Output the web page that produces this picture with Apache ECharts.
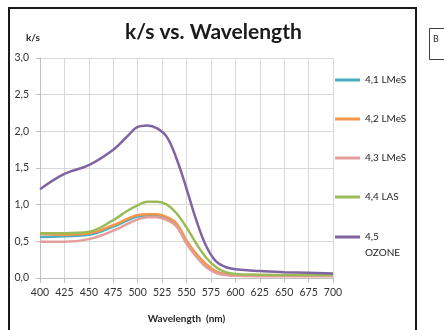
<!DOCTYPE html>
<html>
<head>
<meta charset="utf-8">
<script src="https://cdn.jsdelivr.net/npm/echarts@6/dist/echarts.min.js"></script>
<style>
  html, body { margin: 0; padding: 0; background: #ffffff; }
  #chart { width: 444px; height: 330px; }
</style>
</head>
<body>
<div id="chart"></div>
<script>
// Wavelengths (nm) at which k/s was measured
const wavelengths = [400, 425, 450, 475, 490, 500, 510, 520, 530, 540, 550, 560, 570, 580, 590, 600, 625, 650, 675, 700];

// k/s values per sample
const lmes41 = [0.56, 0.57, 0.59, 0.70, 0.79, 0.84, 0.85, 0.85, 0.81, 0.72, 0.50, 0.32, 0.18, 0.09, 0.05, 0.035, 0.03, 0.03, 0.03, 0.03];
const lmes42 = [0.60, 0.59, 0.61, 0.72, 0.81, 0.86, 0.87, 0.87, 0.83, 0.74, 0.51, 0.33, 0.19, 0.09, 0.05, 0.035, 0.03, 0.03, 0.03, 0.03];
const lmes43 = [0.495, 0.495, 0.53, 0.645, 0.74, 0.80, 0.83, 0.83, 0.79, 0.70, 0.47, 0.29, 0.15, 0.07, 0.04, 0.03, 0.025, 0.025, 0.025, 0.025];
const las44  = [0.61, 0.61, 0.63, 0.79, 0.92, 0.99, 1.04, 1.04, 1.00, 0.88, 0.69, 0.47, 0.28, 0.15, 0.08, 0.055, 0.045, 0.04, 0.04, 0.04];
const ozone45 = [1.21, 1.42, 1.54, 1.75, 1.94, 2.06, 2.08, 2.04, 1.92, 1.62, 1.22, 0.79, 0.44, 0.23, 0.15, 0.12, 0.095, 0.08, 0.07, 0.06];

const seriesNames = ['4,1 LMeS', '4,2 LMeS', '4,3 LMeS', '4,4 LAS', '4,5 OZONE'];
const seriesColors = ['#4bacc6', '#f79646', '#e39e9b', '#9bbb59', '#8064a2'];
const seriesValues = [lmes41, lmes42, lmes43, las44, ozone45];

const font = 'Lato, "Open Sans", sans-serif';
const commaDecimal = v => v.toFixed(1).replace('.', ',');

const chart = echarts.init(document.getElementById('chart'), null, { renderer: 'canvas' });

// shared legend look: short line swatch followed by the series name
const legendBase = {
  orient: 'vertical',
  left: 335,
  padding: 0,
  icon: 'rect',
  itemWidth: 25,
  itemHeight: 3
};

chart.setOption({
  animation: false,
  backgroundColor: '#ffffff',
  title: {
    text: 'k/s vs. Wavelength',
    left: 125,
    top: 22,
    padding: 0,
    textStyle: { fontFamily: font, fontSize: 21, fontWeight: 'bold', color: '#1a1a1a' }
  },
  grid: { left: 40, right: 111, top: 58, bottom: 52 },
  legend: [
    Object.assign({}, legendBase, {
      top: 73,
      itemGap: 25,
      textStyle: { fontFamily: font, fontSize: 10, color: '#262626', lineHeight: 14 },
      data: seriesNames.slice(0, 4)
    }),
    Object.assign({}, legendBase, {
      top: 213,
      textStyle: { fontFamily: font, fontSize: 10, color: '#262626', lineHeight: 16 },
      formatter: name => '\n' + name.replace(' ', '\n'),
      data: seriesNames.slice(4)
    })
  ],
  xAxis: {
    type: 'value',
    min: 400,
    max: 700,
    interval: 25,
    name: 'Wavelength  (nm)',
    nameLocation: 'middle',
    nameGap: 36,
    nameTextStyle: { fontFamily: font, fontSize: 10, fontWeight: 'bold', color: '#262626' },
    axisLine: { show: true, lineStyle: { color: '#bfbfbf', width: 1 } },
    axisTick: { show: true, length: 5, lineStyle: { color: '#bfbfbf' } },
    axisLabel: { fontFamily: font, fontSize: 10.5, color: '#333333', margin: 9 },
    splitLine: { show: true, lineStyle: { color: '#d9d9d9', width: 1 } }
  },
  yAxis: {
    type: 'value',
    min: 0,
    max: 3,
    interval: 0.5,
    name: 'k/s',
    nameLocation: 'end',
    nameGap: 15,
    nameTextStyle: { fontFamily: font, fontSize: 10, fontWeight: 'bold', color: '#262626', align: 'right' },
    axisLine: { show: true, lineStyle: { color: '#bfbfbf', width: 1 } },
    axisTick: { show: true, length: 4, lineStyle: { color: '#bfbfbf' } },
    axisLabel: { fontFamily: font, fontSize: 10.5, color: '#333333', margin: 11, formatter: commaDecimal },
    splitLine: { show: true, lineStyle: { color: '#d9d9d9', width: 1 } }
  },
  series: seriesNames.map((name, i) => ({
    name: name,
    type: 'line',
    smooth: 0.4,
    symbol: 'none',
    color: seriesColors[i],
    itemStyle: { color: seriesColors[i] },
    lineStyle: { width: 2.5, color: seriesColors[i] },
    data: wavelengths.map((w, j) => [w, seriesValues[i][j]])
  })),
  graphic: [
    // chart frame
    {
      type: 'rect',
      shape: { x: 9, y: 8, width: 407, height: 330 },
      style: { fill: null, stroke: '#1a1a1a', lineWidth: 2 },
      silent: true,
      z: 100
    },
    // neighbouring text box
    {
      type: 'rect',
      shape: { x: 429.5, y: 28.5, width: 30, height: 31 },
      style: { fill: '#ffffff', stroke: '#404040', lineWidth: 1 },
      silent: true,
      z: 100
    },
    {
      type: 'text',
      x: 433,
      y: 35,
      style: { text: 'B', fontFamily: font, fontSize: 9, fill: '#262626' },
      silent: true,
      z: 101
    }
  ]
});
</script>
</body>
</html>
